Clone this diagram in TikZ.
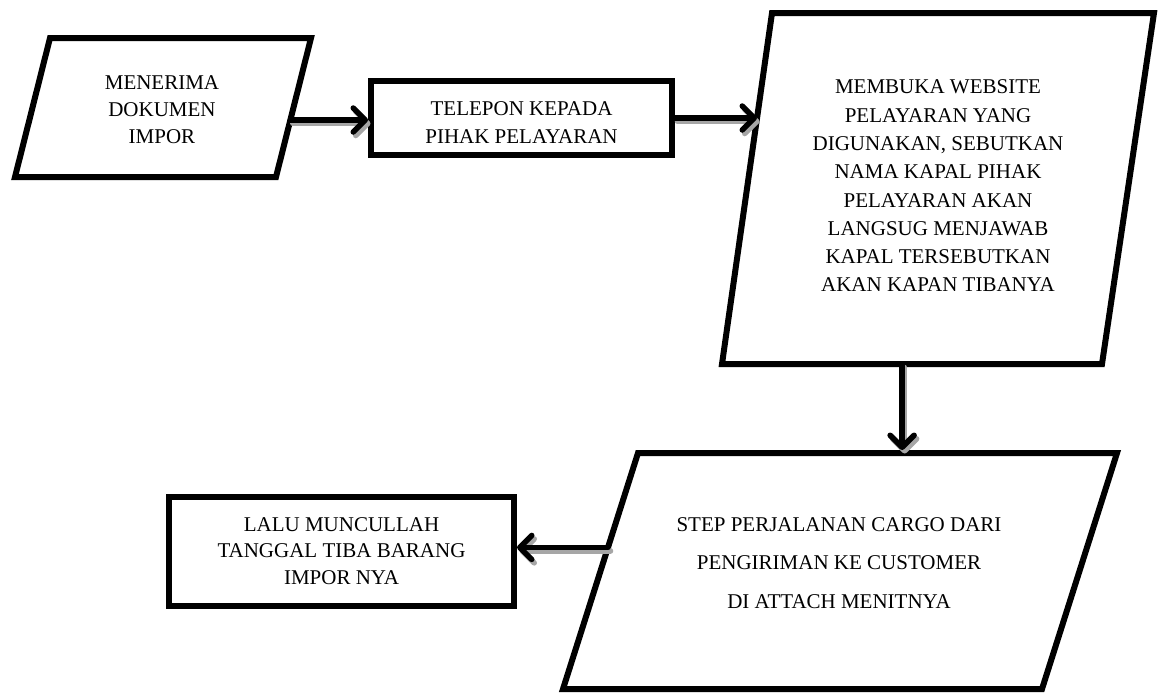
\documentclass[tikz,border=0pt]{standalone}
\usepackage{fontspec}
\setmainfont{Liberation Serif}
\usetikzlibrary{calc,arrows.meta}

\tikzset{
  shapeline/.style={draw=black, line width=6pt, line join=miter},
  procbox/.style={shapeline, rectangle, inner sep=0pt},
  txt/.style={align=center, inner sep=0pt},
  flowtip/.style={-{Straight Barb[length=12pt,width=24pt,round]}},
  flow/.style={draw=black, line width=5.5pt, line cap=round, flowtip},
  flowshade/.style={draw=black!35, line width=5.5pt, line cap=round, flowtip},
}

\begin{document}
\begin{tikzpicture}[x=1pt,y=-1pt,font=\fontsize{21}{27}\selectfont]
\useasboundingbox (0,0) rectangle (1165,694);

% input: received documents
\coordinate (p1tl) at (50,38);  \coordinate (p1tr) at (311,38);
\coordinate (p1br) at (276,177);\coordinate (p1bl) at (15,177);
\draw[shapeline] (p1tl) -- (p1tr) -- (p1br) -- (p1bl) -- cycle;
\node[txt] (t1) at (162,110) {MENERIMA\\DOKUMEN\\IMPOR};

% phone call
\node[procbox, minimum width=301pt, minimum height=74pt] (r2) at (521.5,118) {};
\node[txt, font=\fontsize{21}{28}\selectfont] (t2) at (521.5,123)
  {TELEPON KEPADA\\PIHAK PELAYARAN};

% website check
\coordinate (p3tl) at (772,13);  \coordinate (p3tr) at (1154,13);
\coordinate (p3br) at (1102,364);\coordinate (p3bl) at (722,364);
\draw[shapeline] (p3tl) -- (p3tr) -- (p3br) -- (p3bl) -- cycle;
\node[txt, font=\fontsize{21}{28.3}\selectfont] (t3) at (938,186)
  {MEMBUKA WEBSITE\\PELAYARAN YANG\\DIGUNAKAN, SEBUTKAN\\NAMA KAPAL PIHAK\\PELAYARAN AKAN\\LANGSUG MENJAWAB\\KAPAL TERSEBUTKAN\\AKAN KAPAN TIBANYA};

% cargo tracking
\coordinate (p4tl) at (638,453);  \coordinate (p4tr) at (1117,453);
\coordinate (p4br) at (1042,689); \coordinate (p4bl) at (563,689);
\draw[shapeline] (p4tl) -- (p4tr) -- (p4br) -- (p4bl) -- cycle;
\node[txt, font=\fontsize{21}{38.5}\selectfont] (t4) at (839,563)
  {STEP PERJALANAN CARGO DARI\\PENGIRIMAN KE CUSTOMER\\DI ATTACH MENITNYA};

% arrival date
\node[procbox, minimum width=345pt, minimum height=109pt] (r5) at (341.5,551.5) {};
\node[txt, font=\fontsize{21}{26.5}\selectfont] (t5) at (341.5,551)
  {LALU MUNCULLAH\\TANGGAL TIBA BARANG\\IMPOR NYA};

% connection points on the slanted edges
\coordinate (p1out) at ($(p1tr)!0.59!(p1br)$);
\coordinate (p3in)  at ($(p3tl)!0.30!(p3bl)$);
\coordinate (p3out) at ($(p3bl)!0.474!(p3br)$);
\coordinate (p4in)  at ($(p3out |- p4tl) + (0,-3)$);
\coordinate (p4out) at ($(p4tl)!0.40!(p4bl)$);

% connector end points
\coordinate (a1s) at (p1out);          \coordinate (a1e) at (p1out -| r2.west);
\coordinate (a2s) at (r2.east);        \coordinate (a2e) at (r2.east -| p3in);
\coordinate (a3s) at (p3out);          \coordinate (a3e) at (p4in);
\coordinate (a4s) at (p4out);          \coordinate (a4e) at (p4out -| r5.east);

% soft shadows under the connectors
\foreach \s/\e in {a1s/a1e, a2s/a2e, a3s/a3e, a4s/a4e}
  \draw[flowshade] ([shift={(2.5,3.5)}]\s) -- ([shift={(2.5,3.5)}]\e);

% connectors
\draw[flow] (a1s) -- (a1e);
\draw[flow] (a2s) -- (a2e);
\draw[flow] (a3s) -- (a3e);
\draw[flow] (a4s) -- (a4e);
\end{tikzpicture}
\end{document}
